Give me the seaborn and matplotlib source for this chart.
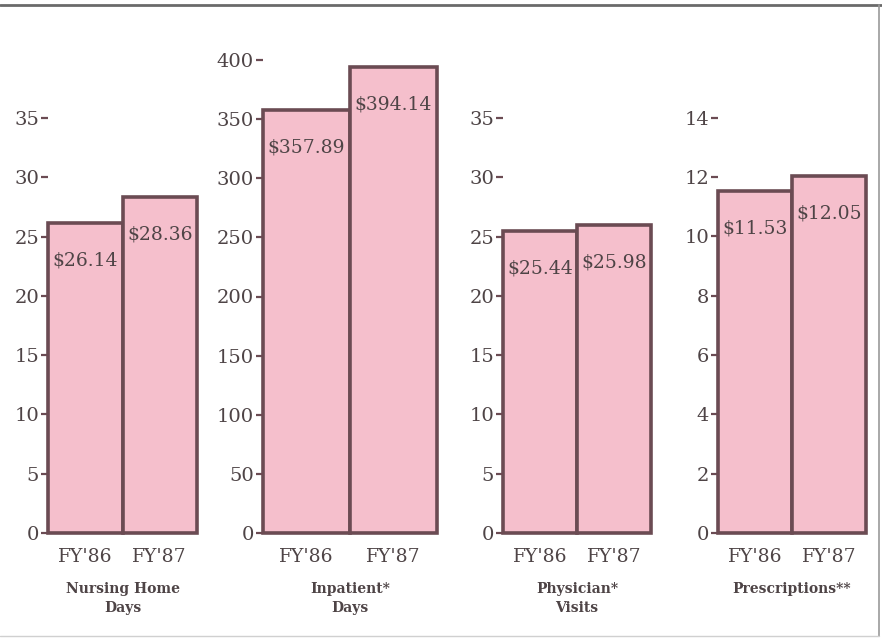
import numpy as np
import matplotlib
matplotlib.use("Agg")
import matplotlib.pyplot as plt
import seaborn as sns
from matplotlib.lines import Line2D

sns.set_style("white")
plt.rcParams['font.family'] = ['DejaVu Serif']

# data
years = ["FY'86", "FY'87"]
nursing_home = [26.14, 28.36]
inpatient = [357.89, 394.14]
physician = [25.44, 25.98]
prescriptions = [11.53, 12.05]

panel_titles = ["Nursing Home\nDays", "Inpatient*\nDays", "Physician*\nVisits", "Prescriptions**"]
panel_values = [nursing_home, inpatient, physician, prescriptions]
panel_ylim = [39.9, 400, 39.9, 15.95]
panel_ticks = [np.arange(0, 36, 5), np.arange(0, 401, 50), np.arange(0, 36, 5), np.arange(0, 15, 2)]

PINK = '#F5BFCC'
EDGE = '#6B4B53'
TEXT = '#4E4446'

W, H = 882, 641
fig = plt.figure(figsize=(W / 100, H / 100), dpi=100)

# pixel extents of each panel (left, right); shared baseline / top
x_extents = [(48, 197), (263, 437), (503, 651), (718, 866)]
y_top, y_zero = 60, 533

for (x0, x1), vals, ttl, ymax, ticks in zip(x_extents, panel_values, panel_titles, panel_ylim, panel_ticks):
    ax = fig.add_axes([x0 / W, 1 - y_zero / H, (x1 - x0) / W, (y_zero - y_top) / H])
    sns.barplot(x=years, y=vals, ax=ax, color=PINK, saturation=1, width=1,
                edgecolor=EDGE, linewidth=2.6)
    for p in ax.patches:
        p.set_clip_on(False)
    ax.set_xlim(-0.5, 1.5)
    ax.set_ylim(0, ymax)
    ax.set_yticks(ticks)
    ax.set_yticklabels([str(t) for t in ticks])
    for s in ax.spines.values():
        s.set_visible(False)
    ax.tick_params(axis='y', left=True, length=5, width=1.6, color=EDGE, pad=1.5,
                   labelsize=14, labelcolor=TEXT)
    ax.tick_params(axis='x', length=0, pad=11, labelsize=13.5, labelcolor=TEXT)
    ax.set_ylabel('')
    ax.set_xlabel(ttl, fontsize=10, color=TEXT, labelpad=11, linespacing=1.5,
                  fontweight='bold')
    for i, v in enumerate(vals):
        ax.annotate(f'${v:.2f}', xy=(i, v), xytext=(0, -27), textcoords='offset points',
                    ha='center', va='center', fontsize=13.5, color=TEXT)

# frame lines
fig.add_artist(Line2D([0, 1], [1 - 5 / H, 1 - 5 / H], transform=fig.transFigure,
                      color='#6a6a6a', lw=2))
fig.add_artist(Line2D([879 / W, 879 / W], [1 - 5 / H, 1 - 636 / H], transform=fig.transFigure,
                      color='#9a9a9a', lw=1.2))
fig.add_artist(Line2D([0, 879 / W], [1 - 636 / H, 1 - 636 / H], transform=fig.transFigure,
                      color='#d0d0d0', lw=1))

fig.savefig('out.png', dpi=100)
